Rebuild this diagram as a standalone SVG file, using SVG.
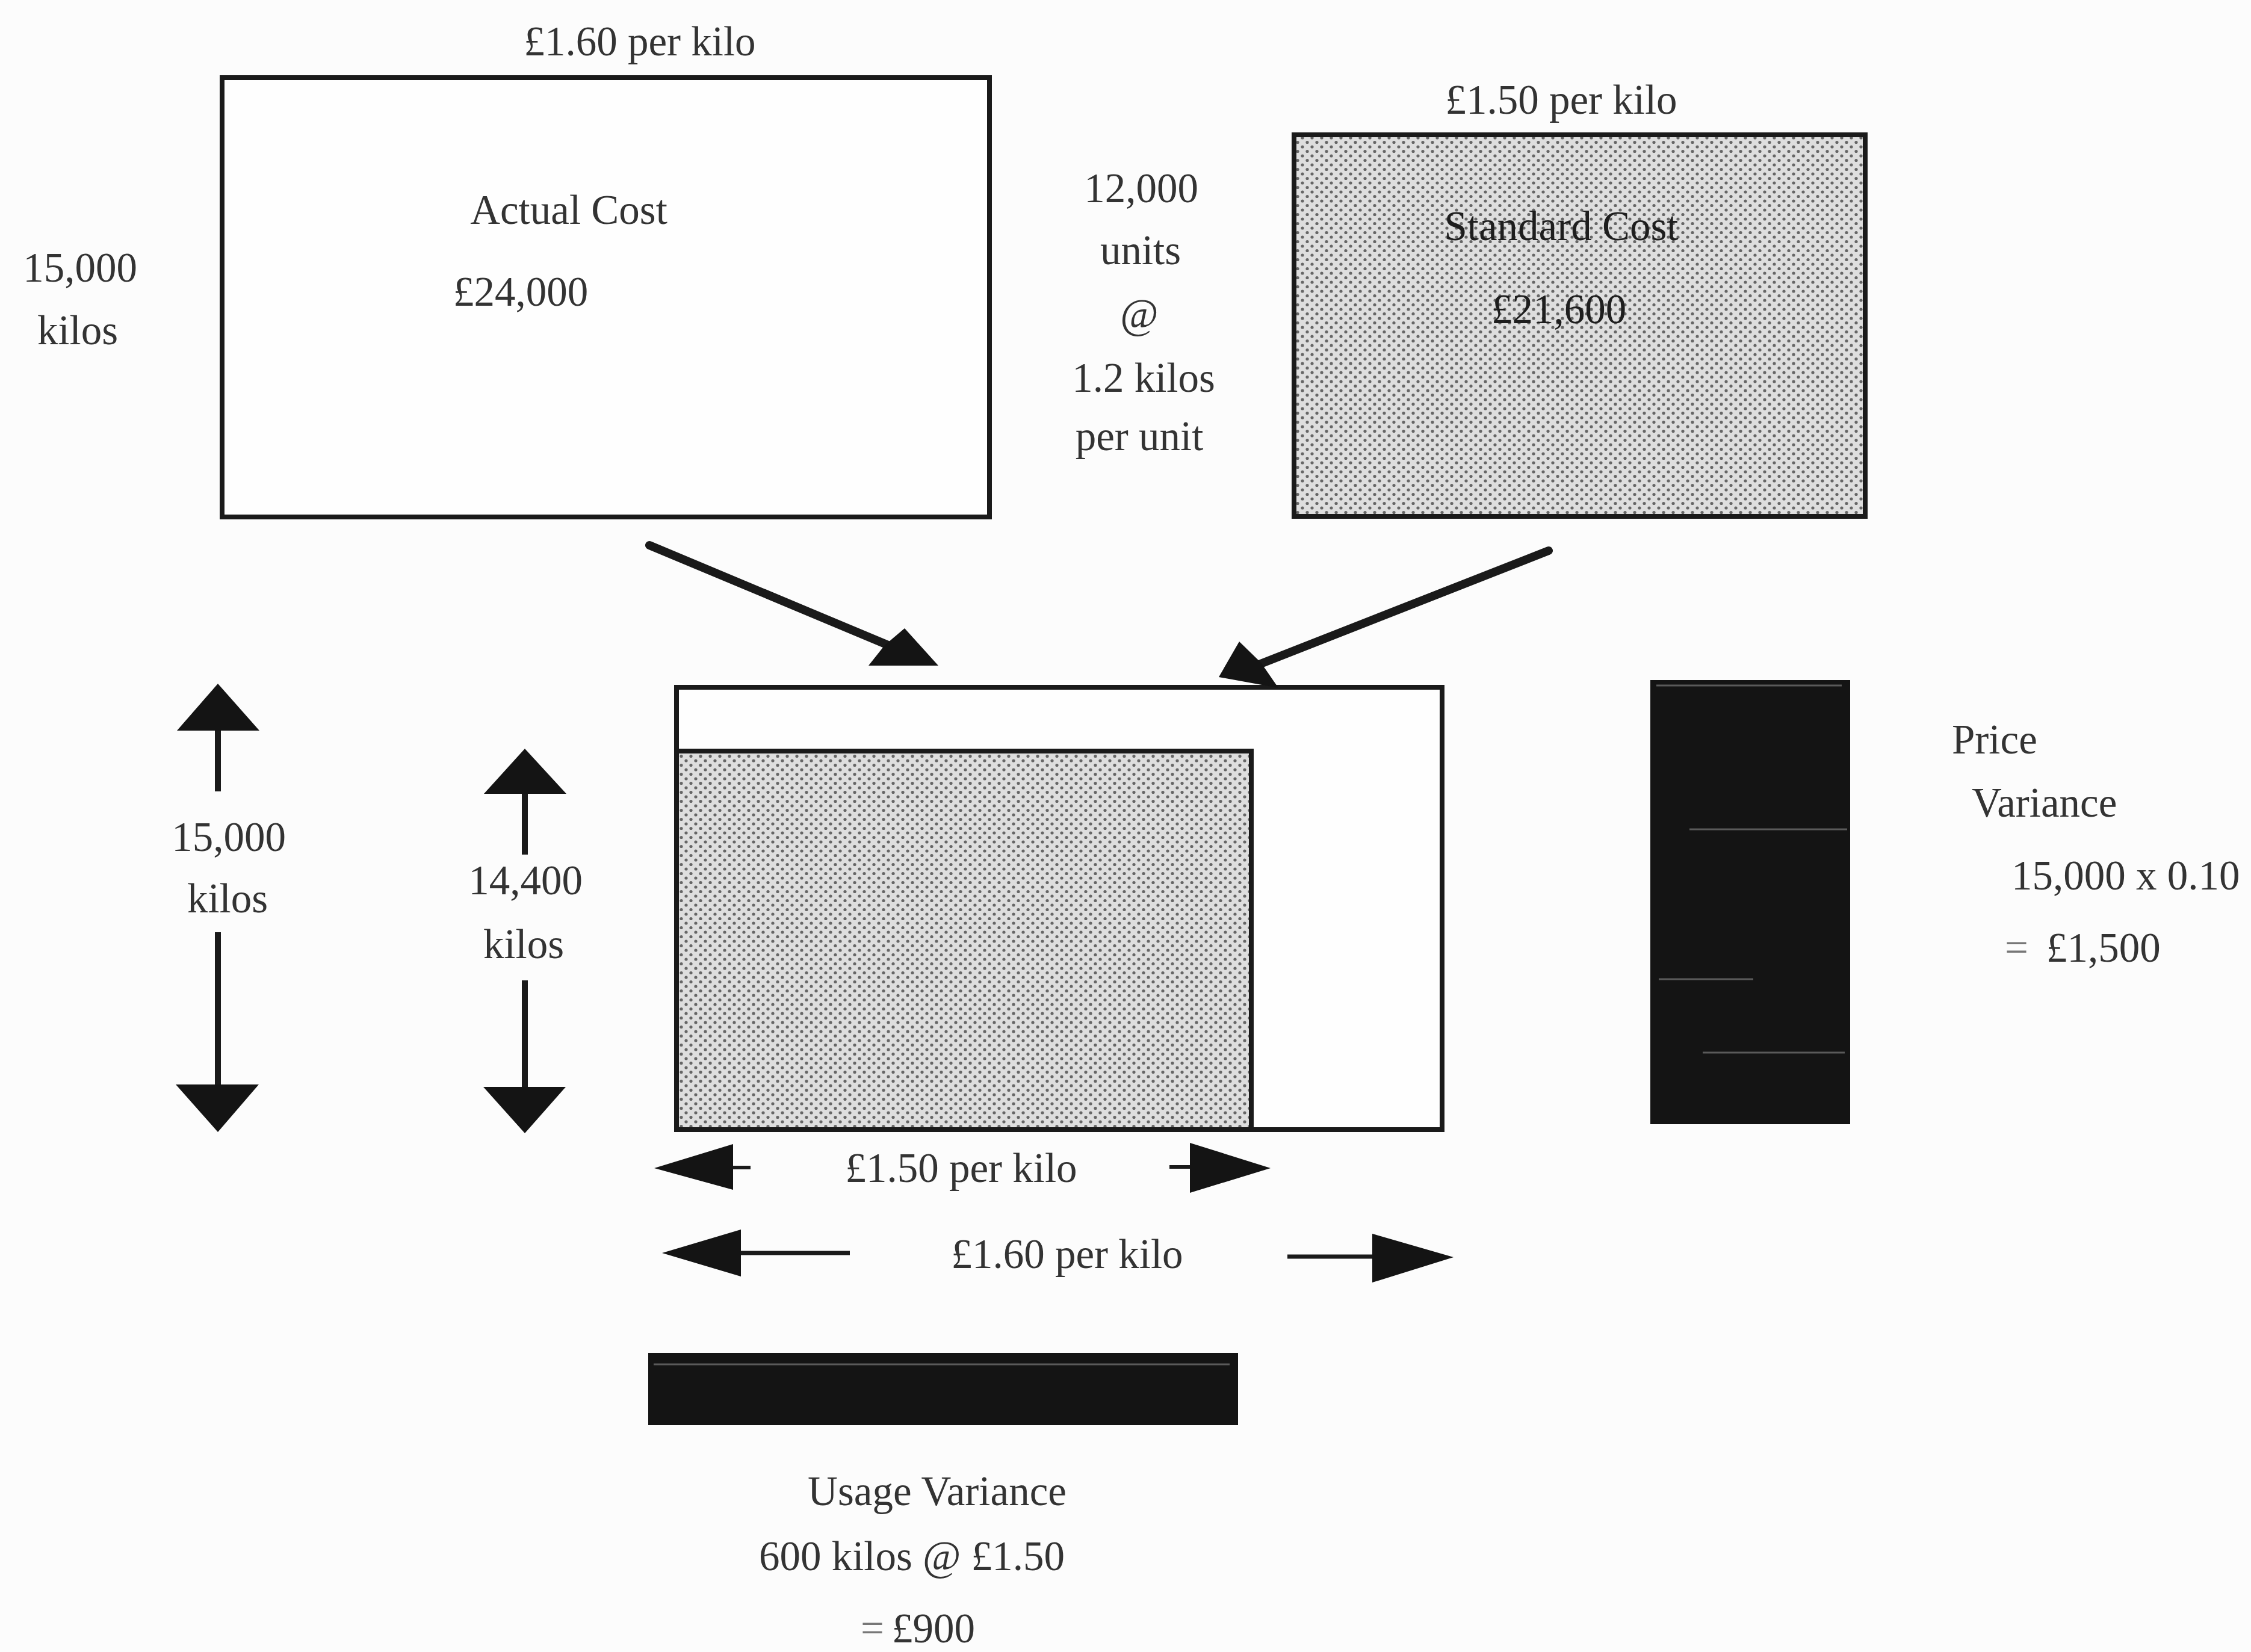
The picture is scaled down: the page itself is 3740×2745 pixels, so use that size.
<svg xmlns="http://www.w3.org/2000/svg" width="3740" height="2745" viewBox="0 0 3740 2745">
<defs>
<pattern id="dots" patternUnits="userSpaceOnUse" width="16" height="15">
<rect width="16" height="15" fill="#dedede"/>
<circle cx="4" cy="4" r="2.6" fill="#666"/>
<circle cx="12" cy="11.5" r="2.6" fill="#666"/>
</pattern>
<style>
text{font-family:"Liberation Serif","Times New Roman",serif;font-size:69px;fill:#333}
.m{text-anchor:middle}
.dk{fill:#1e1e1e}
.lt{fill:#777}
.box{stroke:#1a1a1a;stroke-width:8}
.sh{fill:url(#dots)}
.blk{fill:#141414}
.ln{stroke:#1a1a1a;fill:none}
.hd{fill:#141414}
.faint{stroke:#8a8a8a;stroke-width:3;opacity:0.6}
</style>
</defs>
<rect width="3740" height="2745" fill="#fcfcfc"/>

<g id="actual-cost">
<rect class="box" x="369" y="129" width="1275" height="730" fill="#fefefe"/>
<text class="m" x="1063" y="92">£1.60 per kilo</text>
<text class="m" x="945" y="372">Actual Cost</text>
<text class="m" x="865" y="508">£24,000</text>
</g>

<g id="actual-kilos">
<text class="m" x="133" y="468">15,000</text>
<text class="m" x="129" y="572">kilos</text>
</g>

<g id="units-note">
<text class="m" x="1896" y="336">12,000</text>
<text class="m" x="1895" y="439">units</text>
<text class="m" x="1893" y="545">@</text>
<text class="m" x="1900" y="651">1.2 kilos</text>
<text class="m" x="1893" y="748">per unit</text>
</g>

<g id="standard-cost">
<rect class="box sh" x="2150" y="224" width="949" height="634"/>
<text class="m" x="2594" y="189">£1.50 per kilo</text>
<text class="m dk" x="2594" y="399">Standard Cost</text>
<text class="m dk" x="2590" y="537">£21,600</text>
</g>

<g id="combined-box">
<rect class="box" x="1124" y="1142" width="1272" height="735" fill="#fefefe"/>
<rect class="box sh" x="1124" y="1248" width="955" height="629"/>
</g>

<g id="dim-15000">
<text class="m" x="380" y="1414">15,000</text>
<text class="m" x="378" y="1516">kilos</text>
</g>

<g id="dim-14400">
<text class="m" x="873" y="1486">14,400</text>
<text class="m" x="870" y="1592">kilos</text>
</g>

<g id="price-variance">
<rect class="blk" x="2742" y="1130" width="332" height="738"/>
<line class="faint" x1="2752" y1="1139" x2="3060" y2="1139"/>
<line class="faint" x1="2807" y1="1378" x2="3069" y2="1378"/>
<line class="faint" x1="2756" y1="1627" x2="2913" y2="1627"/>
<line class="faint" x1="2829" y1="1749" x2="3065" y2="1749"/>
<text x="3243" y="1252">Price</text>
<text x="3276" y="1357">Variance</text>
<text x="3342" y="1478">15,000 x 0.10</text>
<text x="3331" y="1598"><tspan class="lt">=</tspan><tspan x="3400">£1,500</tspan></text>
</g>

<g id="price-labels">
<text class="m" x="1597" y="1964">£1.50 per kilo</text>
<text class="m" x="1773" y="2107">£1.60 per kilo</text>
</g>

<g id="usage-variance">
<rect class="blk" x="1077" y="2248" width="980" height="120"/>
<line class="faint" x1="1086" y1="2267" x2="2043" y2="2267"/>
<text class="m" x="1557" y="2501">Usage Variance</text>
<text class="m" x="1515" y="2609">600 kilos @ £1.50</text>
<text x="1430" y="2729"><tspan class="lt">=</tspan><tspan x="1482">£900</tspan></text>
</g>

<g id="connectors">
<!-- diagonal arrows into combined box -->
<line class="ln" x1="1079" y1="906" x2="1478" y2="1073" stroke-width="14" stroke-linecap="round"/>
<polygon class="hd" points="1559,1106 1503,1044 1470,1072 1443,1106"/>
<line class="ln" x1="2573" y1="915" x2="2092" y2="1104" stroke-width="14" stroke-linecap="round"/>
<polygon class="hd" points="2025,1125 2059,1066 2095,1101 2124,1143"/>

<!-- vertical 15,000 kilos -->
<polygon class="hd" points="362,1136 294,1214 431,1214"/>
<line class="ln" x1="362" y1="1214" x2="362" y2="1315" stroke-width="10"/>
<line class="ln" x1="362" y1="1549" x2="362" y2="1802" stroke-width="10"/>
<polygon class="hd" points="292,1802 430,1802 362,1881"/>

<!-- vertical 14,400 kilos -->
<polygon class="hd" points="872,1244 804,1319 941,1319"/>
<line class="ln" x1="872" y1="1319" x2="872" y2="1420" stroke-width="10"/>
<line class="ln" x1="872" y1="1629" x2="872" y2="1806" stroke-width="10"/>
<polygon class="hd" points="803,1806 940,1806 872,1883"/>

<!-- horizontal £1.50 per kilo -->
<polygon class="hd" points="1087,1941 1218,1901 1218,1977"/>
<line class="ln" x1="1218" y1="1940" x2="1247" y2="1940" stroke-width="6"/>
<line class="ln" x1="1943" y1="1939" x2="1977" y2="1939" stroke-width="6"/>
<polygon class="hd" points="1977,1899 1977,1982 2111,1941"/>

<!-- horizontal £1.60 per kilo -->
<polygon class="hd" points="1100,2082 1231,2043 1231,2121"/>
<line class="ln" x1="1231" y1="2082" x2="1412" y2="2082" stroke-width="7"/>
<line class="ln" x1="2139" y1="2088" x2="2280" y2="2088" stroke-width="7"/>
<polygon class="hd" points="2280,2050 2280,2131 2415,2089"/>
</g>
</svg>
